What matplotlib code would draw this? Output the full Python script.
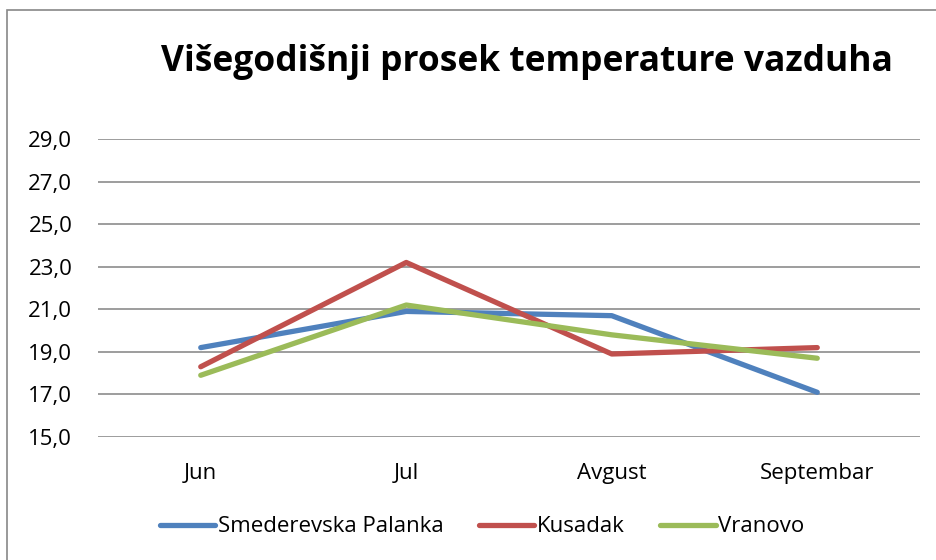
import matplotlib.pyplot as plt
from matplotlib.patches import Rectangle
from matplotlib.ticker import FuncFormatter

# data
months = ["Jun", "Jul", "Avgust", "Septembar"]
smederevska = [19.2, 20.9, 20.7, 17.1]
kusadak = [18.3, 23.2, 18.9, 19.2]
vranovo = [17.9, 21.2, 19.8, 18.7]
series_names = ["Smederevska Palanka", "Kusadak", "Vranovo"]
yticks = [15, 17, 19, 21, 23, 25, 27, 29]

plt.rcParams['font.family'] = ['Open Sans', 'DejaVu Sans']

W, H = 936, 560
fig = plt.figure(figsize=(W / 100, H / 100), dpi=100)

# outer chart border (Excel style)
fig.patches.append(Rectangle((7 / W, -0.1), 1.2, (H - 10) / H + 0.1,
                             transform=fig.transFigure, fill=False,
                             edgecolor='#888888', linewidth=1.2))

# plot area in pixels: x 98..920, y 139..437
ax = fig.add_axes([98 / W, 1 - 437 / H, (920 - 98) / W, (437 - 139) / H])

x = range(len(months))
ax.plot(x, smederevska, color='#4F81BD', lw=3.8, solid_capstyle='round', label=series_names[0])
ax.plot(x, kusadak, color='#C0504D', lw=3.8, solid_capstyle='round', label=series_names[1])
ax.plot(x, vranovo, color='#9BBB59', lw=3.8, solid_capstyle='round', label=series_names[2])

ax.set_xlim(-0.5, len(months) - 0.5)
ax.set_ylim(15, 29)
ax.set_yticks(yticks)
ax.yaxis.set_major_formatter(FuncFormatter(lambda v, p: f"{v:.1f}".replace('.', ',')))
ax.set_xticks(list(x))
ax.set_xticklabels(months)
ax.grid(axis='y', color='#8c8c8c', linewidth=1.2)
ax.set_axisbelow(True)
for s in ax.spines.values():
    s.set_visible(False)
ax.tick_params(axis='both', length=0, labelsize=16, colors='black')
ax.tick_params(axis='y', pad=18.5)
ax.tick_params(axis='x', pad=18.5)

fig.text(527 / W, 1 - 62 / H, "Višegodišnji prosek temperature vazduha",
         ha='center', va='center', fontsize=25.5, fontweight='bold')

fig.legend(loc='center', bbox_to_anchor=(482 / W, 1 - 527 / H), ncol=3,
           frameon=False, fontsize=16, handlelength=2.5, handletextpad=0.1,
           columnspacing=1.6)

fig.savefig("out.png", dpi=100)
